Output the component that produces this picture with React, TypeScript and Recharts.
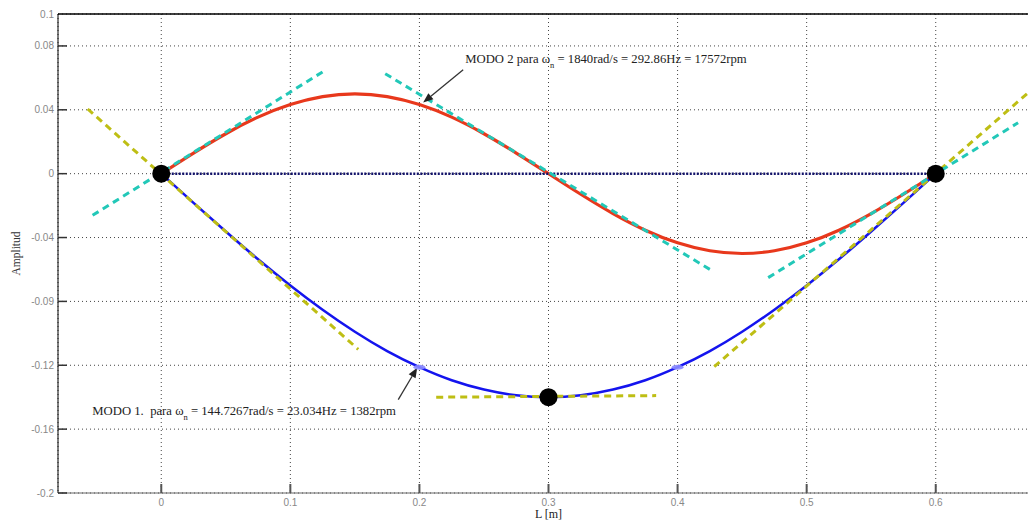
import React from 'react';
import {
  ComposedChart,
  Line,
  Scatter,
  XAxis,
  YAxis,
  CartesianGrid,
  ReferenceLine,
  ReferenceDot,
} from 'recharts';

// ---------- data ----------
const L_POS = [0, 0.025, 0.05, 0.075, 0.1, 0.125, 0.15, 0.175, 0.2, 0.225, 0.25, 0.275, 0.3,
  0.325, 0.35, 0.375, 0.4, 0.425, 0.45, 0.475, 0.5, 0.525, 0.55, 0.575, 0.6];
const MODO1 = [0, -0.0183, -0.0362, -0.0536, -0.07, -0.0852, -0.099, -0.1111, -0.1212, -0.1294,
  -0.1352, -0.1388, -0.14, -0.1388, -0.1352, -0.1294, -0.1212, -0.1111, -0.099, -0.0852, -0.07,
  -0.0536, -0.0362, -0.0183, 0];
const MODO2 = [0, 0.0129, 0.025, 0.0354, 0.0433, 0.0483, 0.05, 0.0483, 0.0433, 0.0354, 0.025,
  0.0129, 0, -0.0129, -0.025, -0.0354, -0.0433, -0.0483, -0.05, -0.0483, -0.0433, -0.0354, -0.025,
  -0.0129, 0];

// tangent segments
const TAN_YEL_LEFT = [{ x: -0.057, y: 0.0405 }, { x: 0.1526, y: -0.11 }];
const TAN_YEL_RIGHT = [{ x: 0.4284, y: -0.1209 }, { x: 0.68, y: 0.0566 }];
const TAN_YEL_MIN = [{ x: 0.213, y: -0.14 }, { x: 0.3834, y: -0.139 }];
const TAN_CYAN_LEFT = [{ x: -0.0532, y: -0.0261 }, { x: 0.1255, y: 0.064 }];
const TAN_CYAN_MID = [{ x: 0.1735, y: 0.0626 }, { x: 0.4253, y: -0.0601 }];
const TAN_CYAN_RIGHT = [{ x: 0.4702, y: -0.0651 }, { x: 0.6638, y: 0.0319 }];
const STATIC_LINE = [{ x: 0, y: 0 }, { x: 0.6, y: 0 }];
const NODES = [{ x: 0, y: 0 }, { x: 0.3, y: -0.14 }, { x: 0.6, y: 0 }];
const MARKS = [{ x: 0.2, y: -0.1212 }, { x: 0.4, y: -0.1212 }];

const X_TICKS = [0, 0.1, 0.2, 0.3, 0.4, 0.5, 0.6];
const X_TICK_LABELS = ['0', '0.1', '0.2', '0.3', '0.4', '0.5', '0.6'];
const Y_TICKS = [0.1, 0.08, 0.04, 0, -0.04, -0.08, -0.12, -0.16, -0.2];
const Y_TICK_LABELS = ['0.1', '0.08', '0.04', '0', '-0.04', '-0.09', '-0.12', '-0.16', '-0.2'];

const ARROW_MODO2 = [{ x: 0.2339, y: 0.0651 }, { x: 0.2029, y: 0.0445 }];
const ARROW_MODO1 = [{ x: 0.1836, y: -0.1415 }, { x: 0.1983, y: -0.1215 }];
const LABEL_MODO2 = { x: 0.2355, y: 0.0695 };
const LABEL_MODO1 = { x: -0.0534, y: -0.1509 };

const modo1Data = L_POS.map((x, i) => ({ x, y: MODO1[i] }));
const modo2Data = L_POS.map((x, i) => ({ x, y: MODO2[i] }));

// ---------- styles ----------
const RED = '#E8381C';
const BLUE = '#1414EE';
const YEL = '#BEBE14';
const CYAN = '#22C8B8';
const TICK_MARGIN = 4;

const YTick = (props: any) => {
  const { x, y, payload } = props;
  const idx = Y_TICKS.indexOf(payload.value);
  const ax = x + TICK_MARGIN;
  return (
    <g>
      <text x={x} y={y} dy={3.5} textAnchor="end" fontFamily="Liberation Sans" fontSize={10} fill="#888">
        {Y_TICK_LABELS[idx]}
      </text>
      {payload.value !== 0.1 && (
        <line x1={ax} x2={ax + 9} y1={y} y2={y} stroke="#333" strokeWidth={1.5} />
      )}
    </g>
  );
};

const XTick = (props: any) => {
  const { x, y, payload } = props;
  const idx = X_TICKS.indexOf(payload.value);
  const ay = y - TICK_MARGIN;
  return (
    <g>
      <text x={x} y={y} dy={9} textAnchor="middle" fontFamily="Liberation Sans" fontSize={10} fill="#888">
        {X_TICK_LABELS[idx]}
      </text>
      <line x1={x} x2={x} y1={ay} y2={ay - 9} stroke="#555" strokeWidth={2} />
    </g>
  );
};

const Arrow = (props: any) => {
  const { x1, y1, x2, y2 } = props;
  const dx = x2 - x1;
  const dy = y2 - y1;
  const len = Math.sqrt(dx * dx + dy * dy) || 1;
  const ux = dx / len;
  const uy = dy / len;
  const hl = 10;
  const hw = 4;
  const bx = x2 - ux * hl;
  const by = y2 - uy * hl;
  const p1 = `${x2},${y2}`;
  const p2 = `${bx - uy * hw},${by + ux * hw}`;
  const p3 = `${bx + uy * hw},${by - ux * hw}`;
  return (
    <g>
      <line x1={x1} y1={y1} x2={bx} y2={by} stroke="#333" strokeWidth={1.3} />
      <polygon points={`${p1} ${p2} ${p3}`} fill="#222" />
    </g>
  );
};

const Modo2Text = (p: any) => (
  <text x={p.cx} y={p.cy} fontFamily="Liberation Serif" fontSize={12.7} fill="#222">
    MODO 2 para ω
    <tspan fontSize={8.5} dy={5}>n</tspan>
    <tspan dy={-5}> = 1840rad/s = 292.86Hz = 17572rpm</tspan>
  </text>
);

const Modo1Text = (p: any) => (
  <text x={p.cx} y={p.cy} fontFamily="Liberation Serif" fontSize={12.7} fill="#222">
    {'MODO 1.\u00a0 para ω'}
    <tspan fontSize={8.5} dy={5}>n</tspan>
    <tspan dy={-5}> = 144.7267rad/s = 23.034Hz = 1382rpm</tspan>
  </text>
);

const NodeDot = (p: any) => <circle cx={p.cx} cy={p.cy} r={9} fill="#000" />;
const LightMark = (p: any) => (
  <ellipse cx={p.cx} cy={p.cy} rx={6} ry={2.5} fill="#8A8AFF" opacity={0.9} />
);

const tanProps = {
  type: 'linear' as const,
  dataKey: 'y',
  dot: false,
  activeDot: false,
  strokeWidth: 3,
  strokeDasharray: '7 5',
  isAnimationActive: false,
};

export default function App() {
  return (
    <div style={{ position: 'fixed', left: 0, top: 0, width: 1028, height: 520, overflow: 'hidden', background: '#fff' }}>
      <ComposedChart width={1039} height={520} margin={{ top: 14, right: 0, bottom: 0, left: 0 }}>
        <CartesianGrid stroke="#444" strokeDasharray="1 3" strokeWidth={1} />
        <XAxis
          type="number"
          dataKey="x"
          domain={[-0.08, 0.68]}
          ticks={X_TICKS}
          allowDataOverflow
          height={27}
          tickSize={0}
          tickMargin={TICK_MARGIN}
          tickLine={false}
          tick={<XTick />}
          stroke="#666"
          label={{
            content: (lp: any) => (
              <text
                x={lp.viewBox.x + lp.viewBox.width / 2}
                y={lp.viewBox.y + 25}
                textAnchor="middle"
                fontFamily="Liberation Serif"
                fontSize={12}
                fill="#222"
              >
                L [m]
              </text>
            ),
          }}
        />
        <YAxis
          type="number"
          dataKey="y"
          domain={[-0.2, 0.1]}
          ticks={Y_TICKS}
          allowDataOverflow
          width={58}
          tickSize={0}
          tickMargin={TICK_MARGIN}
          tickLine={false}
          tick={<YTick />}
          stroke="#000"
          label={{
            content: (lp: any) => {
              const cx = 17;
              const cy = lp.viewBox.y + lp.viewBox.height / 2;
              return (
                <text
                  x={cx}
                  y={cy}
                  transform={`rotate(-90 ${cx} ${cy})`}
                  textAnchor="middle"
                  dominantBaseline="middle"
                  fontFamily="Liberation Serif"
                  fontSize={11.5}
                  fill="#333"
                >
                  Amplitud
                </text>
              );
            },
          }}
        />
        <ReferenceLine y={0.1} stroke="#000" strokeWidth={1.5} />

        <Line data={modo2Data} type="natural" dataKey="y" stroke={RED} strokeWidth={3.2} dot={false} activeDot={false} isAnimationActive={false} />
        <Line data={modo1Data} type="natural" dataKey="y" stroke={BLUE} strokeWidth={2.5} dot={false} activeDot={false} isAnimationActive={false} />
        <Scatter data={MARKS} shape={<LightMark />} isAnimationActive={false} />
        <Scatter data={NODES} shape={<NodeDot />} isAnimationActive={false} />

        <Line data={STATIC_LINE} type="linear" dataKey="y" stroke="#12126A" strokeWidth={2.5} strokeDasharray="2 1.5" dot={false} activeDot={false} isAnimationActive={false} />

        <Line data={TAN_YEL_LEFT} stroke={YEL} {...tanProps} />
        <Line data={TAN_YEL_RIGHT} stroke={YEL} {...tanProps} />
        <Line data={TAN_YEL_MIN} stroke={YEL} {...tanProps} />
        <Line data={TAN_CYAN_LEFT} stroke={CYAN} {...tanProps} />
        <Line data={TAN_CYAN_MID} stroke={CYAN} {...tanProps} />
        <Line data={TAN_CYAN_RIGHT} stroke={CYAN} {...tanProps} />

        <ReferenceLine segment={ARROW_MODO2} shape={<Arrow />} />
        <ReferenceLine segment={ARROW_MODO1} shape={<Arrow />} />
        <ReferenceDot x={LABEL_MODO2.x} y={LABEL_MODO2.y} r={0} shape={<Modo2Text />} />
        <ReferenceDot x={LABEL_MODO1.x} y={LABEL_MODO1.y} r={0} shape={<Modo1Text />} />
      </ComposedChart>
    </div>
  );
}
